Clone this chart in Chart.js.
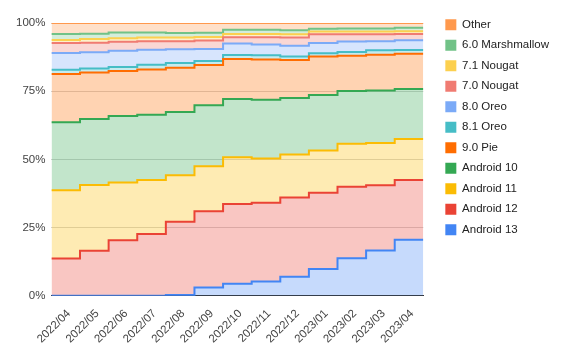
<!DOCTYPE html>
<html>
<head>
<meta charset="utf-8">
<script src="https://cdn.jsdelivr.net/npm/chart.js@4/dist/chart.umd.min.js"></script>
<style>
  html, body { margin: 0; padding: 0; background: #fff; }
</style>
</head>
<body>
<canvas id="chart" width="567" height="351"></canvas>
<script>
// months along the x axis
const months = ['2022/04', '2022/05', '2022/06', '2022/07', '2022/08', '2022/09', '2022/10',
    '2022/11', '2022/12', '2023/01', '2023/02', '2023/03', '2023/04'];

// share of devices per version, in percent
const android13 = [0, 0, 0, 0, 0.3, 3.1, 4.4, 5.3, 7.0, 9.8, 13.8, 16.6, 20.6];
const android12 = [13.7, 16.5, 20.4, 22.7, 26.9, 27.9, 29.3, 28.8, 29.0, 28.0, 26.2, 23.9, 21.9];
const android11 = [25.0, 24.1, 21.1, 19.8, 17.0, 16.5, 17.1, 16.2, 15.8, 15.5, 15.7, 15.5, 15.0];
const android10 = [24.9, 24.2, 24.4, 23.9, 23.2, 22.4, 21.3, 21.6, 20.7, 20.3, 19.4, 19.3, 18.3];
const pie90 = [17.7, 17.1, 16.5, 16.6, 16.2, 14.7, 14.7, 14.7, 13.9, 14.1, 12.9, 13.1, 12.9];
const oreo81 = [1.6, 1.4, 1.5, 1.7, 1.7, 1.5, 1.5, 1.6, 1.3, 1.2, 1.4, 1.6, 1.4];
const oreo80 = [6.1, 6.0, 5.9, 5.5, 5.1, 4.4, 4.2, 3.9, 4.0, 3.8, 3.8, 3.3, 3.6];
const nougat70 = [3.7, 3.5, 3.3, 3.1, 2.9, 3.1, 2.3, 2.7, 3.0, 3.2, 2.7, 2.6, 2.3];
const nougat71 = [1.1, 1.3, 1.3, 1.4, 1.4, 1.3, 1.2, 1.2, 1.2, 1.0, 1.0, 1.0, 1.0];
const marshmallow60 = [2.2, 2.0, 2.1, 1.8, 1.6, 1.5, 1.5, 1.5, 1.4, 1.0, 1.1, 1.1, 1.3];
const other = [4.0, 3.9, 3.5, 3.5, 3.7, 3.6, 2.5, 2.5, 2.7, 2.1, 2.0, 2.0, 1.7];

const yTicks = [0, 25, 50, 75, 100];

// bottom of the stack first
const series = [
    { label: 'Android 13', values: android13, color: '66, 133, 244' },
    { label: 'Android 12', values: android12, color: '234, 67, 53' },
    { label: 'Android 11', values: android11, color: '251, 188, 4' },
    { label: 'Android 10', values: android10, color: '52, 168, 83' },
    { label: '9.0 Pie', values: pie90, color: '255, 109, 1' },
    { label: '8.1 Oreo', values: oreo81, color: '70, 189, 198' },
    { label: '8.0 Oreo', values: oreo80, color: '123, 170, 247' },
    { label: '7.0 Nougat', values: nougat70, color: '240, 123, 114' },
    { label: '7.1 Nougat', values: nougat71, color: '252, 208, 79' },
    { label: '6.0 Marshmallow', values: marshmallow60, color: '113, 194, 135' },
    { label: 'Other', values: other, color: '255, 153, 77' }
];

// each month fills its whole band: point at band start, one closing point at the end
function toSteps(values) {
    const pts = values.map((v, i) => ({ x: i, y: v }));
    pts.push({ x: values.length, y: values[values.length - 1] });
    return pts;
}

const datasets = series.map((s, i) => ({
    label: s.label,
    data: toSteps(s.values),
    borderColor: `rgba(${s.color}, 1)`,
    backgroundColor: `rgba(${s.color}, 0.3)`,
    borderWidth: 2,
    pointRadius: 0,
    stepped: 'before',
    fill: i === 0 ? 'origin' : '-1'
}));

// leave a gap between the plot and the legend
const legendGap = {
    id: 'legendGap',
    afterInit(chart) {
        const legend = chart.legend;
        const fit = legend.fit;
        legend.fit = function () {
            fit.call(this);
            this.width += 13;
        };
    },
    afterLayout(chart) {
        chart.legend.left += 13;
        chart.legend.right += 13;
    }
};

Chart.defaults.font.family = '"Liberation Sans", Arial, sans-serif';

new Chart(document.getElementById('chart'), {
    type: 'line',
    data: { datasets: datasets },
    plugins: [legendGap],
    options: {
        responsive: false,
        animation: false,
        layout: { padding: { left: 10, right: 8, top: 10, bottom: 2 } },
        scales: {
            x: {
                type: 'linear',
                min: 0,
                max: months.length,
                afterBuildTicks: function (scale) {
                    scale.ticks = months.map((m, i) => ({ value: i + 0.5 }));
                },
                ticks: {
                    autoSkip: false,
                    minRotation: 45,
                    maxRotation: 45,
                    labelOffset: 3,
                    color: '#444',
                    font: { size: 11.5 },
                    callback: function (value) {
                        return months[Math.floor(value)];
                    }
                },
                grid: { display: false },
                border: { display: true, color: '#333', width: 1 }
            },
            y: {
                stacked: true,
                min: 0,
                max: 100,
                afterBuildTicks: function (scale) {
                    scale.ticks = yTicks.map(v => ({ value: v }));
                },
                afterFit: function (scale) {
                    scale.paddingTop = 23;
                },
                ticks: {
                    color: '#444',
                    font: { size: 11.5 },
                    padding: 6,
                    callback: v => v + '%'
                },
                grid: { color: '#d4d4d4', drawTicks: false },
                border: { display: false }
            }
        },
        plugins: {
            legend: {
                position: 'right',
                align: 'start',
                reverse: true,
                labels: {
                    boxWidth: 11,
                    boxHeight: 11,
                    padding: 9,
                    color: '#222',
                    font: { size: 11.5 },
                    generateLabels: function (chart) {
                        const items = Chart.defaults.plugins.legend.labels.generateLabels(chart);
                        items.forEach(it => {
                            it.fillStyle = it.strokeStyle;
                            it.lineWidth = 0;
                        });
                        return items;
                    }
                }
            },
            tooltip: { enabled: false }
        }
    }
});
</script>
</body>
</html>
